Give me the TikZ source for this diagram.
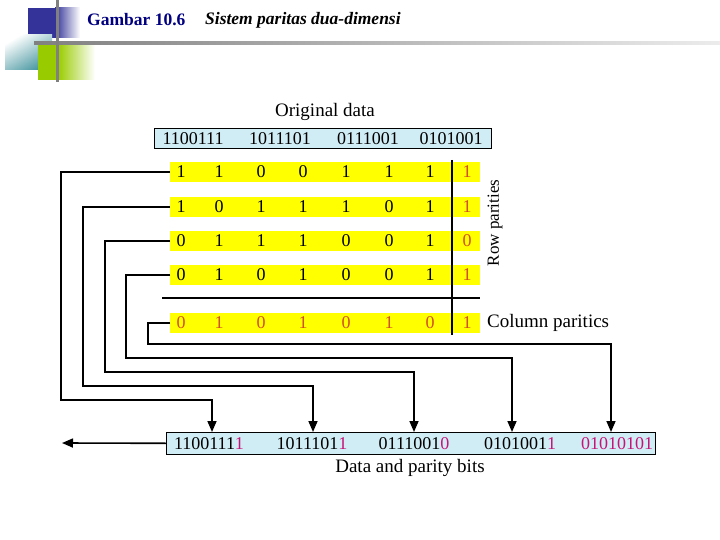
\documentclass[tikz,border=0pt]{standalone}
\usepackage{fontspec}
\setmainfont{Liberation Serif}
\usetikzlibrary{arrows.meta,calc}
\definecolor{hdrblue}{RGB}{51,51,153}
\definecolor{hdrteal}{RGB}{70,150,160}
\definecolor{hdrgreen}{RGB}{153,204,0}
\definecolor{hdrgray}{RGB}{128,128,128}
\definecolor{titleblue}{RGB}{0,0,128}
\definecolor{boxblue}{RGB}{208,236,244}
\definecolor{rowyellow}{RGB}{255,255,0}
\definecolor{parred}{RGB}{210,80,30}
\definecolor{bitmag}{RGB}{200,20,120}
\tikzset{
  yrow/.style={fill=rowyellow,minimum width=310pt,minimum height=20pt,inner sep=0pt,anchor=west},
  dig/.style={font=\fontsize{18}{18}\selectfont,inner sep=0pt},
  pdig/.style={dig,text=parred},
  bluebox/.style={draw=black,line width=0.6pt,fill=boxblue,inner sep=0pt,anchor=north west},
  lbl/.style={font=\fontsize{19}{19}\selectfont,inner sep=0pt},
  conn/.style={line width=1.6pt},
  arr/.style={conn,-{Triangle[width=9pt,length=11pt]}}
}
\begin{document}
\begin{tikzpicture}[x=1pt,y=-1pt]
\useasboundingbox (0,0) rectangle (720,540);
% header decoration
\shade[left color=hdrblue,right color=white] (55,8) rectangle (80,38);
\fill[hdrblue] (28,8) rectangle (56,38);
\shade[left color=white,right color=hdrteal,shading angle=30] (5,35) rectangle (52,70);
\shade[left color=hdrgreen,right color=white] (58,45) rectangle (95,80);
\fill[hdrgreen] (38,45) rectangle (58,80);
\shade[left color=hdrgray,right color=hdrgray!15] (34,41.5) rectangle (720,44.5);
\fill[hdrgray] (55.5,0) rectangle (58.5,82);
\node[anchor=west,inner sep=0pt,text=titleblue,font=\fontsize{17.5}{17.5}\selectfont\bfseries] (t1) at (87,20) {Gambar 10.6};
\node[anchor=west,inner sep=0pt,font=\fontsize{17.5}{17.5}\selectfont\bfseries\itshape] (t2) at (205,20) {Sistem paritas dua-dimensi};
% original data
\node[lbl] (orig) at (325,112) {Original data};
\node[bluebox,minimum width=337pt,minimum height=20pt] (ob) at (154,128) {};
\node[dig] at (193,138.5) {1100111};
\node[dig] at (280,138.5) {1011101};
\node[dig] at (368,138.5) {0111001};
\node[dig] at (451,138.5) {0101001};
% rows
\node[yrow] (r1) at (170,172) {};
\node[yrow] (r2) at (170,207) {};
\node[yrow] (r3) at (170,241) {};
\node[yrow] (r4) at (170,275) {};
\node[yrow] (r5) at (170,323) {};
\foreach \row/\bits/\p in {1/{1,1,0,0,1,1,1}/1, 2/{1,0,1,1,1,0,1}/1, 3/{0,1,1,1,0,0,1}/0, 4/{0,1,0,1,0,0,1}/1}{
  \foreach \b [count=\i] in \bits {
    \pgfmathsetmacro{\xx}{{181,219,261,303,346,389,430}[\i-1]}
    \node[dig] at (\xx,0 |- r\row.center) {\b};
  }
  \node[pdig] at (467,0 |- r\row.center) {\p};
}
\foreach \b [count=\i] in {0,1,0,1,0,1,0,1} {
  \pgfmathsetmacro{\xx}{{181,219,261,303,346,389,430,467}[\i-1]}
  \node[pdig] at (\xx,0 |- r5.center) {\b};
}
\draw[line width=2.5pt] (162,298) -- (480,298);
\draw[line width=2.2pt] (452,160) -- (452,335);
\node[lbl,rotate=90,font=\fontsize{17}{17}\selectfont] (rp) at (495,223) {Row parities};
\node[lbl,anchor=west] (cp) at (487,323) {Column paritics};
% bottom box
\node[bluebox,minimum width=489pt,minimum height=22pt] (bot) at (166,432) {};
\node[dig] (b1) at (209,443.5) {1100111\textcolor{bitmag}{1}};
\node[dig] (b2) at (312,443.5) {1011101\textcolor{bitmag}{1}};
\node[dig] (b3) at (414,443.5) {0111001\textcolor{bitmag}{0}};
\node[dig] (b4) at (520,443.5) {0101001\textcolor{bitmag}{1}};
\node[dig,text=bitmag] (b5) at (617,443.5) {01010101};
\node[lbl] (dp) at (410,468) {Data and parity bits};
\coordinate (out) at (62,443);
% connectors
\draw[arr] (r1.west) -- (61,172) -- (61,400) -- (212,400) -- (212,0 |- bot.north);
\draw[arr] (r2.west) -- (83,207) -- (83,386) -- (313,386) -- (313,0 |- bot.north);
\draw[arr] (r3.west) -- (105,241) -- (105,372) -- (414,372) -- (414,0 |- bot.north);
\draw[arr] (r4.west) -- (126,275) -- (126,358) -- (512,358) -- (512,0 |- bot.north);
\draw[arr] (r5.west) -- (148,323) -- (148,344) -- (611,344) -- (611,0 |- bot.north);
\draw[arr] (bot.west) -- (out);
\end{tikzpicture}
\end{document}
